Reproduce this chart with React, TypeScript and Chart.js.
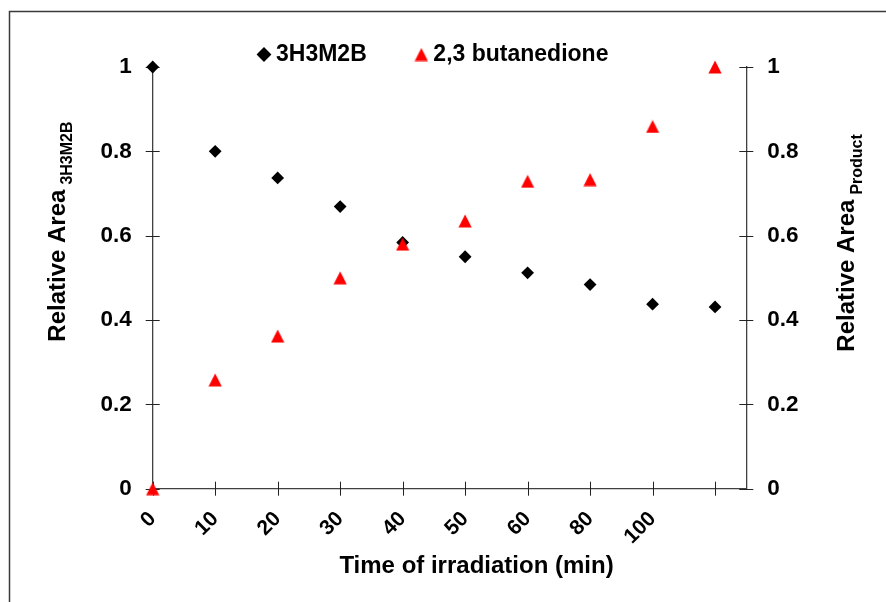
import React, { useEffect, useRef } from 'react';
import { Chart, registerables } from 'chart.js';

Chart.register(...registerables);

// ---- data ----
const timeLabels = ['0', '10', '20', '30', '40', '50', '60', '80', '100', ''];
const hydroxyKetone = [1.0, 0.8, 0.737, 0.669, 0.584, 0.55, 0.512, 0.484, 0.4375, 0.431];
const butanedione = [0, 0.258, 0.362, 0.5, 0.58, 0.635, 0.729, 0.733, 0.859, 1.0];
const yTickValues = [0, 0.2, 0.4, 0.6, 0.8, 1];
const seriesNames = ['3H3M2B', '2,3 butanedione'];
const xTitle = 'Time of irradiation (min)';
const yTitle = 'Relative Area';
const yLeftSub = '3H3M2B';
const yRightSub = 'Product';

const FONT = "'Liberation Sans', Arial, Helvetica, sans-serif";

function makeTriangle(color: string) {
  const c = document.createElement('canvas');
  c.width = 14;
  c.height = 14;
  const g = c.getContext('2d')!;
  g.fillStyle = 'rgba(255,0,0,0.004)';
  g.fillRect(0, 0, 14, 14);
  g.fillStyle = color;
  g.beginPath();
  g.moveTo(7, 0.4);
  g.lineTo(13.6, 13.6);
  g.lineTo(0.4, 13.6);
  g.closePath();
  g.fill();
  return c;
}

const framePlugin = {
  id: 'frame',
  beforeDraw(chart: any) {
    const ctx = chart.ctx;
    ctx.save();
    ctx.strokeStyle = '#3a3a3a';
    ctx.lineWidth = 1.5;
    ctx.beginPath();
    ctx.moveTo(9.5, chart.height + 5);
    ctx.lineTo(9.5, 11.5);
    ctx.lineTo(chart.width + 5, 11.5);
    ctx.stroke();
    ctx.restore();
  },
};

const tickMarksPlugin = {
  id: 'tickMarks',
  beforeDatasetsDraw(chart: any) {
    const { ctx, chartArea, scales } = chart;
    ctx.save();
    ctx.strokeStyle = '#222';
    ctx.lineWidth = 1;
    ctx.beginPath();
    const xs = scales.x;
    xs.ticks.forEach((t: any) => {
      const px = Math.round(xs.getPixelForValue(t.value)) + 0.5;
      ctx.moveTo(px, chartArea.bottom - 7);
      ctx.lineTo(px, chartArea.bottom + 7);
    });
    ['y', 'y2'].forEach((id) => {
      const s = scales[id];
      const ax = id === 'y' ? chartArea.left : chartArea.right;
      s.ticks.forEach((t: any) => {
        const py = Math.round(s.getPixelForValue(t.value)) + 0.5;
        ctx.moveTo(ax - 7, py);
        ctx.lineTo(ax + 7, py);
      });
    });
    ctx.stroke();
    ctx.restore();
  },
};

const legendShiftPlugin = {
  id: 'legendShift',
  afterLayout(chart: any) {
    const lg = chart.legend;
    if (lg) {
      lg.top += 9;
      lg.bottom += 9;
    }
  },
};

function drawRotatedTitle(ctx: CanvasRenderingContext2D, x: number, y: number, main: string, sub: string, drop: number) {
  ctx.save();
  ctx.translate(x, y);
  ctx.rotate(-Math.PI / 2);
  ctx.font = `bold 24px ${FONT}`;
  ctx.fillText(main, 0, 0);
  const w = ctx.measureText(main).width;
  ctx.font = `bold 16px ${FONT}`;
  ctx.fillText(sub, w + 5, drop);
  ctx.restore();
}

const axisTitlesPlugin = {
  id: 'axisTitles',
  afterDraw(chart: any) {
    const { ctx, chartArea } = chart;
    ctx.save();
    ctx.fillStyle = '#000';
    ctx.textAlign = 'left';
    ctx.textBaseline = 'alphabetic';
    ctx.font = `bold 24px ${FONT}`;
    const xw = ctx.measureText(xTitle).width;
    const cx = (chartArea.left + chartArea.right) / 2 + 27;
    ctx.fillText(xTitle, cx - xw / 2, chartArea.bottom + 84.5);
    drawRotatedTitle(ctx, chartArea.left - 87.7, chartArea.bottom - 147, yTitle, yLeftSub, 6.7);
    drawRotatedTitle(ctx, chartArea.right + 107.7, chartArea.bottom - 137, yTitle, yRightSub, 7.7);
    ctx.restore();
  },
};

export default function App() {
  const ref = useRef<HTMLCanvasElement>(null);

  useEffect(() => {
    if (!ref.current) return;
    const tri = makeTriangle('#ff0000');
    const yScale = (position: 'left' | 'right', width: number) => ({
      type: 'linear' as const,
      position,
      min: 0,
      max: 1,
      afterBuildTicks: (s: any) => {
        s.ticks = yTickValues.map((v) => ({ value: v }));
      },
      afterFit: (s: any) => {
        s.width = width;
      },
      grid: { display: false, drawTicks: false },
      border: { display: true, color: '#404040', width: 1.3 },
      ticks: {
        padding: 21,
        color: '#000',
        font: { family: FONT, size: 22.5, weight: 'bold' as const },
        callback: (v: any) => String(Number(Number(v).toFixed(1))),
      },
    });

    const chart = new Chart(ref.current, {
      type: 'scatter',
      data: {
        datasets: [
          {
            label: seriesNames[0],
            data: hydroxyKetone.map((v, i) => ({ x: i, y: v })),
            yAxisID: 'y',
            pointStyle: 'rectRot',
            pointRadius: 6.4,
            pointHoverRadius: 6.4,
            borderWidth: 0,
            backgroundColor: '#000',
            borderColor: '#000',
            clip: false,
            order: 1,
          },
          {
            label: seriesNames[1],
            data: butanedione.map((v, i) => ({ x: i, y: v })),
            yAxisID: 'y2',
            pointStyle: tri as any,
            pointRadius: 7,
            borderWidth: 0,
            backgroundColor: '#ff0000',
            borderColor: '#ff0000',
            clip: false,
            order: 0,
          },
        ],
      },
      options: {
        responsive: false,
        animation: false,
        layout: { padding: { top: -20.1, right: 14.1, left: 0, bottom: 0 } },
        plugins: {
          tooltip: { enabled: false },
          legend: {
            display: true,
            position: 'top',
            align: 'center',
            labels: {
              usePointStyle: true,
              boxWidth: 1,
              boxHeight: 10.5,
              padding: 54.1,
              color: '#000',
              font: { family: FONT, size: 23, weight: 'bold' },
              sort: (a: any, b: any) => a.datasetIndex - b.datasetIndex,
            },
          },
        },
        scales: {
          x: {
            type: 'linear',
            min: 0,
            max: 9.5,
            afterBuildTicks: (s: any) => {
              s.ticks = timeLabels.map((_, i) => ({ value: i }));
            },
            afterFit: (s: any) => {
              s.height = 113.3;
            },
            grid: { display: false, drawTicks: false },
            border: { display: true, color: '#404040', width: 1.3 },
            ticks: {
              padding: 18,
              minRotation: 45,
              maxRotation: 45,
              autoSkip: false,
              color: '#000',
              font: { family: FONT, size: 21, weight: 'bold' },
              callback: (v: any) => timeLabels[v] ?? '',
            },
          },
          y: yScale('left', 152.7),
          y2: yScale('right', 125.6),
        },
      },
      plugins: [framePlugin, tickMarksPlugin, legendShiftPlugin, axisTitlesPlugin],
    });
    return () => chart.destroy();
  }, []);

  return (
    <div style={{ position: 'absolute', left: 0, top: 0, width: 886, height: 602, background: '#fff' }}>
      <canvas ref={ref} width={886} height={602} style={{ display: 'block' }} />
    </div>
  );
}
